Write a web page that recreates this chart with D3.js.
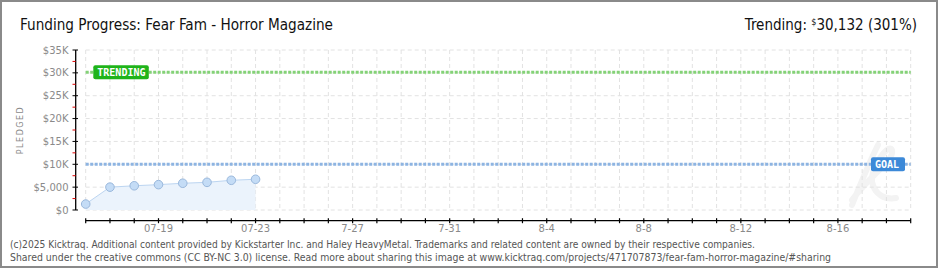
<!DOCTYPE html>
<html>
<head>
<meta charset="utf-8">
<script src="https://cdn.jsdelivr.net/npm/d3@7"></script>
<style>
  body { margin: 0; background: #fff; }
  svg { display: block; }
</style>
</head>
<body>
<div id="chart"></div>
<script>
// pledged totals, one per day
var days = ["2025-07-16", "2025-07-17", "2025-07-18", "2025-07-19",
            "2025-07-20", "2025-07-21", "2025-07-22", "2025-07-23"];
var pledged = [1300, 5000, 5300, 5550, 5850, 6050, 6500, 6720];

var startDay = "2025-07-16",
    endDay = "2025-08-19";

var tickDays = ["2025-07-19", "2025-07-23", "2025-07-27", "2025-07-31",
                "2025-08-04", "2025-08-08", "2025-08-12", "2025-08-16"];
var tickLabels = ["07-19", "07-23", "7-27", "7-31", "8-4", "8-8", "8-12", "8-16"];

var yTicks = [0, 5000, 10000, 15000, 20000, 25000, 30000, 35000];
var yTickLabels = ["$0", "$5,000", "$10K", "$15K", "$20K", "$25K", "$30K", "$35K"];

var goal = 10000,
    trending = 30132;

var width = 940,
    height = 270;

var parseDay = d3.utcParse("%Y-%m-%d");

var svg = d3.select('#chart')
    .append('svg')
    .attr('width', width)
    .attr('height', height);

// outer frame
svg.append('rect')
    .attr('x', 1).attr('y', 1)
    .attr('width', 936).attr('height', 266)
    .attr('fill', '#fff')
    .attr('stroke', '#8a8a8a')
    .attr('stroke-width', 2);

var x = d3.scaleUtc()
    .domain([parseDay(startDay), parseDay(endDay)])
    .range([85.7, 910.7]);

var y = d3.scaleLinear()
    .domain([0, 35000])
    .range([210, 50]);

var allDays = d3.utcDay.range(parseDay(startDay), d3.utcDay.offset(parseDay(endDay), 1));

// faint logo watermark
svg.append('path')
    .attr('d', 'M 878 145 C 868 165, 860 185, 852 205 M 852 200 C 870 175, 895 160, 892 150 C 888 142, 870 170, 872 182 C 875 195, 885 200, 896 198')
    .attr('fill', 'none')
    .attr('stroke', '#f3f3f3')
    .attr('stroke-width', 6)
    .attr('stroke-linecap', 'round');

// grid
var grid = svg.append('g');
grid.selectAll('.hgrid')
    .data(yTicks)
    .enter().append('line')
    .attr('x1', x.range()[0]).attr('x2', x.range()[1])
    .attr('y1', function (d) { return y(d); })
    .attr('y2', function (d) { return y(d); })
    .attr('stroke', '#e2e2e2')
    .attr('stroke-dasharray', '4,3');
grid.selectAll('.vgrid')
    .data(allDays)
    .enter().append('line')
    .attr('x1', function (d) { return x(d); })
    .attr('x2', function (d) { return x(d); })
    .attr('y1', y(35000)).attr('y2', y(0))
    .attr('stroke', '#e2e2e2')
    .attr('stroke-dasharray', '4,3');

// area + line
var pts = days.map(function (d, i) { return { date: parseDay(d), value: pledged[i] }; });

svg.append('path')
    .datum(pts)
    .attr('fill', '#ebf3fc')
    .attr('d', d3.area()
        .x(function (d) { return x(d.date); })
        .y0(y(0))
        .y1(function (d) { return y(d.value); }));

svg.append('path')
    .datum(pts)
    .attr('fill', 'none')
    .attr('stroke', '#bcd5f1')
    .attr('stroke-width', 1)
    .attr('d', d3.line()
        .x(function (d) { return x(d.date); })
        .y(function (d) { return y(d.value); }));

// goal and trending lines
svg.append('line')
    .attr('x1', x.range()[0]).attr('x2', x.range()[1])
    .attr('y1', y(goal)).attr('y2', y(goal))
    .attr('stroke', '#8db4e2')
    .attr('stroke-width', 3)
    .attr('stroke-dasharray', '3,1.5');

svg.append('line')
    .attr('x1', x.range()[0]).attr('x2', x.range()[1])
    .attr('y1', y(trending)).attr('y2', y(trending))
    .attr('stroke', '#84d277')
    .attr('stroke-width', 3)
    .attr('stroke-dasharray', '3,1.5');

svg.selectAll('.pt')
    .data(pts)
    .enter().append('circle')
    .attr('cx', function (d) { return x(d.date); })
    .attr('cy', function (d) { return y(d.value); })
    .attr('r', 4.3)
    .attr('fill', '#c4dcf6')
    .attr('stroke', '#9ab8dc')
    .attr('stroke-width', 1);

// labels on the lines
function tag(px, py, w, color, label) {
    svg.append('rect')
        .attr('x', px).attr('y', py - 7)
        .attr('width', w).attr('height', 14)
        .attr('rx', 2)
        .attr('fill', color);
    svg.append('text')
        .attr('x', px + 4).attr('y', py + 4)
        .attr('font-family', 'DejaVu Sans Mono')
        .attr('font-size', 10)
        .attr('font-weight', 'bold')
        .attr('fill', '#fff')
        .text(label);
}
tag(93.3, y(trending), 55.5, '#1fb41a', 'TRENDING');
tag(871, y(goal), 34, '#3c89d8', 'GOAL');

// y axis
var yAxis = svg.append('g');
yAxis.append('line')
    .attr('x1', 75.7).attr('x2', 75.7)
    .attr('y1', y(35000)).attr('y2', y(0))
    .attr('stroke', '#000').attr('stroke-width', 1.3);
yAxis.selectAll('.minor')
    .data(d3.range(2500, 35000, 5000))
    .enter().append('line')
    .attr('x1', 72.5).attr('x2', 75.7)
    .attr('y1', function (d) { return y(d); })
    .attr('y2', function (d) { return y(d); })
    .attr('stroke', '#e00000').attr('stroke-width', 1);
yAxis.selectAll('.major')
    .data(yTicks)
    .enter().append('line')
    .attr('x1', 72.5).attr('x2', 78)
    .attr('y1', function (d) { return y(d); })
    .attr('y2', function (d) { return y(d); })
    .attr('stroke', '#000').attr('stroke-width', 1);
yAxis.selectAll('.ylab')
    .data(yTicks)
    .enter().append('text')
    .attr('x', 68.5)
    .attr('y', function (d) { return y(d) + 3.5; })
    .attr('text-anchor', 'end')
    .attr('font-family', 'DejaVu Sans')
    .attr('font-size', 10)
    .attr('fill', '#8a8a8a')
    .text(function (d, i) { return yTickLabels[i]; });

svg.append('text')
    .attr('transform', 'translate(23,130) rotate(-90)')
    .attr('text-anchor', 'middle')
    .attr('font-family', 'DejaVu Sans')
    .attr('font-size', 8)
    .attr('letter-spacing', 1.5)
    .attr('fill', '#8a8a8a')
    .text('PLEDGED');

// x axis
var xAxis = svg.append('g');
xAxis.append('line')
    .attr('x1', x.range()[0]).attr('x2', x.range()[1])
    .attr('y1', 220.7).attr('y2', 220.7)
    .attr('stroke', '#000').attr('stroke-width', 1.3);
xAxis.selectAll('.xtick')
    .data(allDays)
    .enter().append('line')
    .attr('x1', function (d) { return x(d); })
    .attr('x2', function (d) { return x(d); })
    .attr('y1', 218.2).attr('y2', 223.2)
    .attr('stroke', '#000').attr('stroke-width', 1.2);
xAxis.selectAll('.xlab')
    .data(tickDays)
    .enter().append('text')
    .attr('x', function (d) { return x(parseDay(d)); })
    .attr('y', 232)
    .attr('text-anchor', 'middle')
    .attr('font-family', 'DejaVu Sans')
    .attr('font-size', 10)
    .attr('fill', '#8a8a8a')
    .text(function (d, i) { return tickLabels[i]; });

// title
svg.append('text')
    .attr('x', 20).attr('y', 30)
    .attr('font-family', 'Liberation Sans Narrow, DejaVu Sans Condensed, sans-serif')
    .attr('font-size', 16)
    .attr('textLength', 313)
    .attr('lengthAdjust', 'spacingAndGlyphs')
    .attr('fill', '#111')
    .text('Funding Progress: Fear Fam - Horror Magazine');

var trend = svg.append('text')
    .attr('x', 917).attr('y', 30)
    .attr('text-anchor', 'end')
    .attr('font-family', 'Liberation Sans Narrow, DejaVu Sans Condensed, sans-serif')
    .attr('font-size', 15)
    .attr('fill', '#111');
trend.append('tspan').text('Trending:  ');
trend.append('tspan').attr('font-size', 9).attr('dy', -5).text('$');
trend.append('tspan').attr('dy', 5).text(d3.format(',')(trending) + ' (' + Math.round(trending / goal * 100) + '%)');

// footer
var footer = [
    '(c)2025 Kicktraq. Additional content provided by Kickstarter Inc. and Haley HeavyMetal. Trademarks and related content are owned by their respective companies.',
    'Shared under the creative commons (CC BY-NC 3.0) license. Read more about sharing this image at www.kicktraq.com/projects/471707873/fear-fam-horror-magazine/#sharing'
];
var footerLen = [745, 821];
svg.selectAll('.foot')
    .data(footer)
    .enter().append('text')
    .attr('x', 10)
    .attr('y', function (d, i) { return 248 + i * 13; })
    .attr('font-family', 'DejaVu Sans Condensed, DejaVu Sans')
    .attr('font-size', 10)
    .attr('textLength', function (d, i) { return footerLen[i]; })
    .attr('lengthAdjust', 'spacingAndGlyphs')
    .attr('fill', '#555')
    .text(function (d) { return d; });
</script>
</body>
</html>
